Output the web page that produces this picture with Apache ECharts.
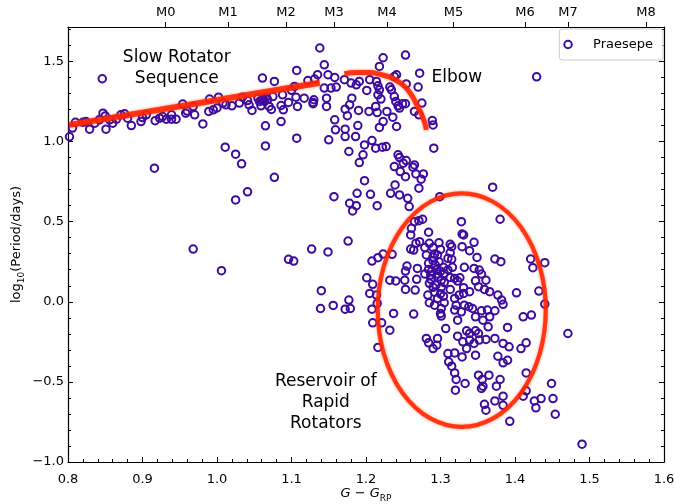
<!DOCTYPE html>
<html><head><meta charset="utf-8">
<script src="https://cdn.jsdelivr.net/npm/echarts@6/dist/echarts.min.js"></script>
<style>html,body{margin:0;padding:0;background:#fff}#c{width:674px;height:504px}</style>
</head><body><div id="c"></div>
<script>
// ---- data (G - G_RP colour, log10 period in days) ----
const praesepe = [
[0.846,1.392],[0.802,1.03],[0.806,1.084],[0.81,1.12],[0.824,1.125],[0.829,1.077],[0.836,1.115],[0.842,1.136],[0.847,1.177],[0.85,1.16],[0.851,1.077],[0.856,1.136],[0.86,1.115],[0.871,1.167],[0.876,1.173],[0.88,1.146],[0.885,1.1],[0.898,1.125],[0.905,1.167],[0.917,1.13],[0.923,1.146],[0.927,1.156],[0.932,1.14],[0.939,1.14],[0.945,1.14],[0.939,1.167],[0.954,1.234],[0.958,1.177],[0.97,1.167],[0.968,1.219],[0.981,1.11],[0.989,1.188],[0.99,1.265],[0.995,1.198],[1.002,1.277],[1.008,1.24],[1.012,1.229],[1.02,1.223],[1.034,1.277],[1.041,1.256],[1.043,1.229],[1.047,1.194],[1.057,1.25],[1.059,1.223],[1.061,1.396],[1.062,1.265],[1.066,1.277],[1.07,1.219],[1.065,1.098],[1.065,0.973],[1.077,1.375],[1.075,1.281],[1.073,1.2],[1.086,1.225],[1.088,1.292],[1.089,1.198],[1.086,1.125],[1.096,1.244],[1.104,1.344],[1.107,1.444],[1.106,1.277],[1.108,1.219],[1.107,1.021],[1.117,1.271],[1.122,1.381],[1.129,1.244],[1.13,1.261],[1.135,1.417],[1.138,1.584],
[1.055,1.27],[1.06,1.26],[1.064,1.25],[1.068,1.262],[0.82,1.12],[0.865,1.14],[0.9,1.15],[0.96,1.19],[1.0,1.21],[1.03,1.24],[1.1,1.32],
[1.011,0.965],[1.025,0.921],[1.033,0.861],[0.916,0.834],[1.077,0.777],[1.041,0.686],[1.025,0.636],
[1.144,1.479],[1.223,1.523],[1.253,1.54],[1.218,1.469],[1.272,1.427],[1.149,1.417],[1.158,1.4],[1.131,1.39],[1.144,1.334],[1.153,1.334],[1.16,1.34],[1.171,1.386],[1.18,1.365],[1.187,1.354],[1.191,1.375],[1.205,1.386],[1.214,1.375],[1.201,1.319],[1.216,1.348],[1.218,1.323],[1.232,1.34],[1.238,1.406],[1.241,1.417],[1.254,1.36],[1.27,1.34],[1.234,1.323],[1.238,1.281],[1.216,1.292],[1.22,1.265],[1.24,1.25],[1.243,1.223],[1.249,1.236],[1.253,1.236],[1.245,1.209],[1.275,1.24],[1.265,1.188],[1.271,1.167],[1.289,1.131],[1.29,1.104],[1.291,0.959],[1.181,1.271],[1.178,1.229],[1.172,1.202],[1.19,1.194],[1.204,1.188],[1.213,1.219],[1.215,1.181],[1.228,1.188],[1.236,1.152],[1.223,1.125],[1.218,1.088],[1.241,1.094],[1.175,1.161],[1.158,1.136],[1.172,1.077],[1.159,1.073],[1.189,1.1],[1.15,1.011],[1.172,1.031],[1.186,1.031],[1.198,0.979],[1.208,1.006],[1.213,0.959],[1.222,0.965],[1.227,0.969],[1.177,0.938],[1.196,0.917],[1.191,0.869],[1.243,0.917],[1.245,0.9],[1.254,0.881],[1.25,0.865],[1.265,0.854],[1.263,0.84],[1.238,0.844],[1.246,0.813],[1.253,0.781],[1.267,0.798],[1.277,0.798],[1.274,0.765],[1.239,0.729],[1.198,0.756],[1.233,0.677],[1.245,0.667],[1.256,0.646],[1.271,0.709],[1.188,0.677],[1.206,0.671],[1.157,0.656],[1.299,0.656],[1.129,1.236],[1.147,1.271],[1.147,1.219],[1.429,1.404],
[0.968,0.329],[1.006,0.194],[1.096,0.265],[1.103,0.254],[1.127,0.329],[1.149,0.311],[1.176,0.379],[1.178,0.615],[1.182,0.567],[1.187,0.6],[1.215,0.6],[1.208,0.254],[1.216,0.275],[1.201,0.15],[1.209,0.109],[1.205,0.052],[1.214,0.042],[1.14,0.069],[1.139,-0.042],[1.156,-0.023],[1.172,-0.046],[1.177,0.011],[1.179,-0.042],[1.208,-0.046],
[1.258,0.594],[1.37,0.715],[1.38,0.515],[1.328,0.5],[1.276,0.515],[1.271,0.506],[1.265,0.5],[1.261,0.459],[1.26,0.417],[1.284,0.434],[1.329,0.423],[1.331,0.417],[1.345,0.371],[1.272,0.375],[1.267,0.365],[1.285,0.365],[1.298,0.369],[1.313,0.359],[1.315,0.344],[1.26,0.329],[1.264,0.323],[1.279,0.338],[1.29,0.338],[1.3,0.327],[1.329,0.344],[1.339,0.319],[1.313,0.306],[1.31,0.271],[1.315,0.265],[1.281,0.292],[1.292,0.298],[1.296,0.292],[1.349,0.277],[1.373,0.267],[1.381,0.25],[1.421,0.267],[1.44,0.244],[1.424,0.213],[1.432,0.067],[1.223,0.298],[1.235,0.296],[1.253,0.192],[1.255,0.223],[1.269,0.208],[1.284,0.24],[1.29,0.256],[1.284,0.202],[1.295,0.202],[1.304,0.215],[1.316,0.215],[1.332,0.215],[1.345,0.208],[1.352,0.198],[1.355,0.173],[1.279,0.173],[1.287,0.167],[1.296,0.173],[1.305,0.177],[1.313,0.152],[1.319,0.146],[1.326,0.15],[1.301,0.135],[1.287,0.14],[1.268,0.14],[1.252,0.135],[1.232,0.135],[1.24,0.13],[1.285,0.115],[1.294,0.104],[1.29,0.09],[1.301,0.09],[1.313,0.077],[1.323,0.129],[1.331,0.088],[1.339,0.063],[1.347,0.131],[1.361,0.135],[1.351,0.094],[1.359,0.077],[1.366,0.063],[1.377,0.042],[1.382,0.011],[1.384,-0.016],[1.402,0.056],[1.266,0.073],[1.253,0.077],[1.283,0.042],[1.296,0.021],[1.304,0.035],[1.285,-0.006],[1.292,-0.021],[1.301,-0.042],[1.305,-0.006],[1.319,0.021],[1.325,0.042],[1.331,0.052],[1.321,-0.021],[1.332,-0.021],[1.338,-0.031],[1.343,-0.042],[1.328,-0.063],[1.355,-0.056],[1.363,-0.052],[1.373,-0.056],[1.237,-0.073],[1.264,-0.077],[1.301,-0.089],[1.422,-0.083],[1.411,-0.094],[1.44,-0.014],[1.215,-0.01],
[1.288,0.19],[1.293,0.23],[1.298,0.25],[1.29,0.28],[1.3,0.19],[1.297,0.155],[1.305,0.12],[1.31,0.2],[1.292,0.06],[1.3,0.05],
[1.319,-0.052],[1.347,-0.094],[1.3,-0.073],[1.323,-0.115],[1.357,-0.115],[1.366,-0.094],[1.209,-0.131],[1.221,-0.131],[1.232,-0.177],[1.216,-0.285],[1.307,-0.167],[1.281,-0.229],[1.284,-0.256],[1.29,-0.292],[1.296,-0.229],[1.295,-0.271],[1.323,-0.215],[1.335,-0.181],[1.339,-0.198],[1.347,-0.181],[1.351,-0.198],[1.33,-0.25],[1.339,-0.239],[1.345,-0.26],[1.352,-0.239],[1.335,-0.292],[1.361,-0.235],[1.364,-0.156],[1.373,-0.229],[1.39,-0.16],[1.384,-0.26],[1.392,-0.281],[1.31,-0.323],[1.319,-0.319],[1.311,-0.375],[1.315,-0.402],[1.329,-0.344],[1.347,-0.333],[1.377,-0.34],[1.384,-0.381],[1.39,-0.365],[1.415,-0.256],[1.408,-0.292],[1.471,-0.198],[1.319,-0.444],[1.321,-0.485],[1.32,-0.552],[1.333,-0.51],[1.351,-0.458],[1.356,-0.485],[1.357,-0.527],[1.355,-0.541],[1.365,-0.458],[1.38,-0.485],[1.375,-0.527],[1.415,-0.444],[1.415,-0.556],[1.411,-0.589],[1.384,-0.589],[1.373,-0.619],[1.359,-0.64],[1.361,-0.677],[1.384,-0.646],[1.426,-0.619],[1.435,-0.604],[1.428,-0.662],[1.449,-0.51],[1.451,-0.604],[1.454,-0.702],[1.393,-0.746],[1.49,-0.889]
];
// annotation bands
const slowSequence = [[0.802,1.104],[1.138,1.367]];
const elbowArc = [[1.171,1.423],[1.187,1.431],[1.205,1.431],[1.218,1.421],[1.232,1.402],[1.243,1.375],[1.252,1.344],[1.261,1.292],[1.267,1.24],[1.274,1.177],[1.279,1.115],[1.281,1.073]];
// reservoir ellipse: centre x, centre y, half-width, half-height (data units)
const reservoir = [[1.3285,-0.052,0.1128,0.729]];
// text annotations
const noteText = ['Slow Rotator\nSequence', 'Elbow', 'Reservoir of\nRapid\nRotators'];
const notePos = [[0.946,1.459],[1.322,1.397],[1.146,-0.632]];
// axes
const xTicks = [0.8,0.9,1.0,1.1,1.2,1.3,1.4,1.5,1.6];
const yTicks = [-1.0,-0.5,0.0,0.5,1.0,1.5];
const spectralTypes = ['M0','M1','M2','M3','M4','M5','M6','M7','M8'];
const spectralColors = [0.9311,1.0148,1.0926,1.157,1.2282,1.3174,1.4134,1.4711,1.5758];

const xMinor = []; for (let i = 41; i < 80; i++) { if (i % 5) xMinor.push(i / 50); }
const yMinor = []; for (let i = -9; i <= 17; i++) { if (i % 5) yMinor.push(i / 10); }

const FONT = 'DejaVu Sans';
const XMIN = 0.8, XMAX = 1.6, YMIN = -1.0, YMAX = 1.715;
const ptColor = '#3d0c9e';
const red = '#ff2200';

const chart = echarts.init(document.getElementById('c'), null, {renderer: 'canvas'});
const tickStyle = {color: '#000', width: 1};
function xAx(extra) {
  return Object.assign({type: 'value', min: XMIN, max: XMAX, splitLine: {show: false},
    axisLine: {show: false, onZero: false}, axisLabel: {show: false}, axisTick: {show: false}}, extra);
}
function yAx(extra) {
  return Object.assign({type: 'value', min: YMIN, max: YMAX, splitLine: {show: false},
    axisLine: {show: false, onZero: false}, axisLabel: {show: false}, axisTick: {show: false}}, extra);
}
const mainLine = {show: true, onZero: false, lineStyle: {color: '#000', width: 1.2}};
const option = {
  animation: false,
  backgroundColor: '#fff',
  textStyle: {fontFamily: FONT},
  grid: {left: 68, right: 10, top: 27, bottom: 42, containLabel: false, outerBoundsMode: 'none'},
  legend: {
    data: ['Praesepe'], right: 11, top: 29, orient: 'horizontal',
    icon: 'circle', itemWidth: 30, itemHeight: 7.5,
    itemStyle: {color: 'rgba(0,0,0,0)', borderColor: ptColor, borderWidth: 2},
    textStyle: {fontSize: 13, color: '#000', fontFamily: FONT, padding: [0, 0, 0, 5]},
    padding: [9, 10, 9, 4], borderColor: '#cccccc', borderWidth: 1, borderRadius: 3,
    backgroundColor: 'rgba(255,255,255,0.85)'
  },
  xAxis: [
    xAx({position: 'bottom',
      axisLine: mainLine,
      axisTick: {show: true, inside: true, length: 5, customValues: xTicks, lineStyle: tickStyle},
      axisLabel: {show: true, customValues: xTicks, formatter: v => v.toFixed(1), fontSize: 13, color: '#000', margin: 11, fontFamily: FONT},
      name: '{i|G} \u2212 {i|G}{sub|RP}', nameLocation: 'middle', nameGap: 23, nameMoveOverlap: false,
      nameTextStyle: {fontSize: 13, color: '#000', fontFamily: FONT, lineHeight: 18,
        rich: {i: {fontStyle: 'italic', fontSize: 13, fontFamily: FONT, color: '#000', lineHeight: 18},
               sub: {fontSize: 9, fontFamily: FONT, color: '#000', lineHeight: 8, verticalAlign: 'bottom'}}}
    }),
    xAx({position: 'bottom',
      axisTick: {show: true, inside: true, length: 3, customValues: xMinor, lineStyle: tickStyle}}),
    xAx({position: 'top',
      axisLine: mainLine,
      axisTick: {show: true, inside: false, length: 5, customValues: spectralColors, lineStyle: tickStyle},
      axisLabel: {show: true, customValues: spectralColors, fontSize: 13, color: '#000', margin: 8, fontFamily: FONT,
        formatter: v => { const i = spectralColors.findIndex(c => Math.abs(c - v) < 1e-6); return i >= 0 ? spectralTypes[i] : ''; }}
    })
  ],
  yAxis: [
    yAx({position: 'left',
      axisLine: mainLine,
      axisTick: {show: true, inside: true, length: 5, customValues: yTicks, lineStyle: tickStyle},
      axisLabel: {show: true, customValues: yTicks, fontSize: 13, color: '#000', margin: 4, fontFamily: FONT,
        formatter: v => (v < 0 ? '\u2212' : '') + Math.abs(v).toFixed(1)},
      name: 'log{sub|10}(Period/days)', nameLocation: 'middle', nameGap: 42, nameRotate: 90, nameMoveOverlap: false,
      nameTextStyle: {fontSize: 13, color: '#000', fontFamily: FONT, lineHeight: 18,
        rich: {sub: {fontSize: 9, fontFamily: FONT, color: '#000', lineHeight: 8, verticalAlign: 'bottom'}}}
    }),
    yAx({position: 'left',
      axisTick: {show: true, inside: true, length: 3, customValues: yMinor, lineStyle: tickStyle}}),
    yAx({position: 'right',
      axisLine: mainLine,
      axisTick: {show: true, inside: true, length: 5, customValues: yTicks, lineStyle: tickStyle}}),
    yAx({position: 'right',
      axisTick: {show: true, inside: true, length: 3, customValues: yMinor, lineStyle: tickStyle}})
  ],
  series: [
    {
      name: 'Praesepe', type: 'scatter', xAxisIndex: 0, yAxisIndex: 0, data: praesepe,
      symbol: 'circle', symbolSize: 7.5, z: 2,
      itemStyle: {color: 'rgba(0,0,0,0)', borderColor: ptColor, borderWidth: 2, opacity: 1},
      emphasis: {disabled: true}
    },
    {
      name: 'slowSeq', type: 'line', data: slowSequence, xAxisIndex: 0, yAxisIndex: 0,
      symbol: 'none', showSymbol: false, z: 3, silent: true,
      lineStyle: {color: red, width: 6, opacity: 0.85, shadowBlur: 3, shadowColor: 'rgba(255,60,0,0.7)'}
    },
    {
      name: 'elbow', type: 'line', data: elbowArc, xAxisIndex: 0, yAxisIndex: 0, smooth: 0.4,
      symbol: 'none', showSymbol: false, z: 3, silent: true,
      lineStyle: {color: red, width: 5, opacity: 0.85, shadowBlur: 3, shadowColor: 'rgba(255,60,0,0.7)'}
    },
    {
      name: 'reservoir', type: 'custom', data: reservoir, xAxisIndex: 0, yAxisIndex: 0, z: 3, silent: true,
      renderItem: function (params, api) {
        const c = api.coord([api.value(0), api.value(1)]);
        const s = api.size([api.value(2), api.value(3)]);
        const rx = s[0], ry = s[1];
        const d = 'M ' + (c[0] - rx) + ' ' + c[1] + ' A ' + rx + ' ' + ry + ' 0 1 0 ' + (c[0] + rx) + ' ' + c[1] +
                  ' A ' + rx + ' ' + ry + ' 0 1 0 ' + (c[0] - rx) + ' ' + c[1] + ' Z';
        return {type: 'path', shape: {pathData: d},
          style: {fill: 'none', stroke: red, lineWidth: 4.2, opacity: 0.85, shadowBlur: 3, shadowColor: 'rgba(255,60,0,0.7)'}};
      }
    },
    {
      name: 'notes', type: 'custom', data: notePos, xAxisIndex: 0, yAxisIndex: 0, z: 4, silent: true,
      renderItem: function (params, api) {
        const c = api.coord([api.value(0), api.value(1)]);
        return {type: 'text', x: c[0], y: c[1],
          style: {text: noteText[params.dataIndex], fill: '#000', fontSize: 17, fontFamily: FONT,
                  align: 'center', verticalAlign: 'middle', lineHeight: 21}};
      }
    }
  ]
};
chart.setOption(option);
</script>
</body></html>
